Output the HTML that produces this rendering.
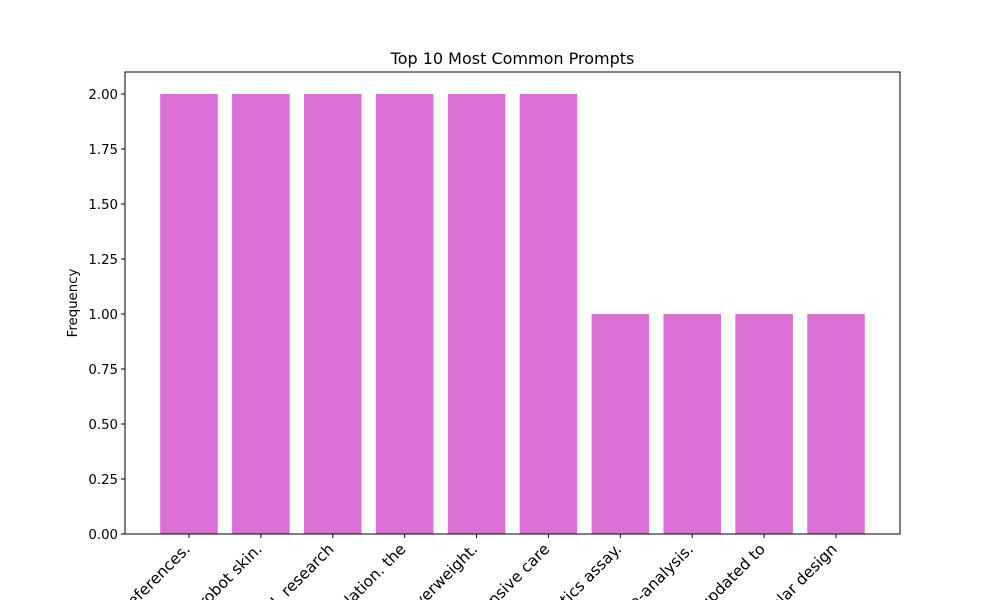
<!DOCTYPE html>
<html><head><meta charset="utf-8"><style>
html,body{margin:0;background:#fff;overflow:hidden;width:1000px;height:600px}
svg{display:block;font-family:"DejaVu Sans","Liberation Sans",sans-serif}
</style></head><body>
<svg id="chart" width="1000" height="600" viewBox="0 0 1000 600">
<defs><clipPath id="frame"><rect width="1000" height="600"/></clipPath></defs>
<rect width="1000" height="600" fill="#fff"/>
<text x="512.5" y="64" text-anchor="middle" font-size="16">Top 10 Most Common Prompts</text>
<text transform="translate(77,303) rotate(-90)" text-anchor="middle" font-size="13.3">Frequency</text>
<g id="bars"></g><g id="yticks"></g><g id="xticks" clip-path="url(#frame)"></g>
<rect x="125" y="72" width="775" height="462" fill="none" stroke="#000" stroke-width="1"/>
</svg>
<script>
const categories=["references.","robot skin.","l. research","ulation. the","verweight.","nsive care","stics assay.","a-analysis.","updated to","ular design"];
const values=[2,2,2,2,2,2,1,1,1,1];
const yTicks=["0.00","0.25","0.50","0.75","1.00","1.25","1.50","1.75","2.00"];
const NS="http://www.w3.org/2000/svg";
const L=125,R=900,T=72,B=534,ymax=2.1,xmin=-0.89,xmax=9.89;
function xs(v){return L+(v-xmin)/(xmax-xmin)*(R-L);}
function ys(v){return B-v/ymax*(B-T);}
function mk(t,a){const e=document.createElementNS(NS,t);for(const k in a)e.setAttribute(k,a[k]);return e;}
const gb=document.getElementById('bars'),gy=document.getElementById('yticks'),gx=document.getElementById('xticks');
values.forEach((v,i)=>{
 const r=mk('rect',{x:xs(i-0.4),y:ys(v),width:xs(i+0.4)-xs(i-0.4),height:ys(0)-ys(v),fill:'#da70d6'});
 
 
 gb.appendChild(r);
 const x=xs(i);
 const tk=mk('line',{x1:x,x2:x,y1:B,y2:B+4,stroke:'#000'});
 
 
 gx.appendChild(tk);
 const t=mk('text',{'text-anchor':'end','font-size':'15.5',transform:`translate(${x+2},${B+16}) rotate(-45)`});
 t.textContent=categories[i];
 
 
 gx.appendChild(t);
});
yTicks.forEach(s=>{
 const y=ys(parseFloat(s));
 const tk=mk('line',{x1:L-4,x2:L,y1:y,y2:y,stroke:'#000'});
 
 
 gy.appendChild(tk);
 const t=mk('text',{x:L-7,y:y+4.8,'text-anchor':'end','font-size':'13.3'});
 t.textContent=s;
 
 
 gy.appendChild(t);
});
</script>
</body></html>
